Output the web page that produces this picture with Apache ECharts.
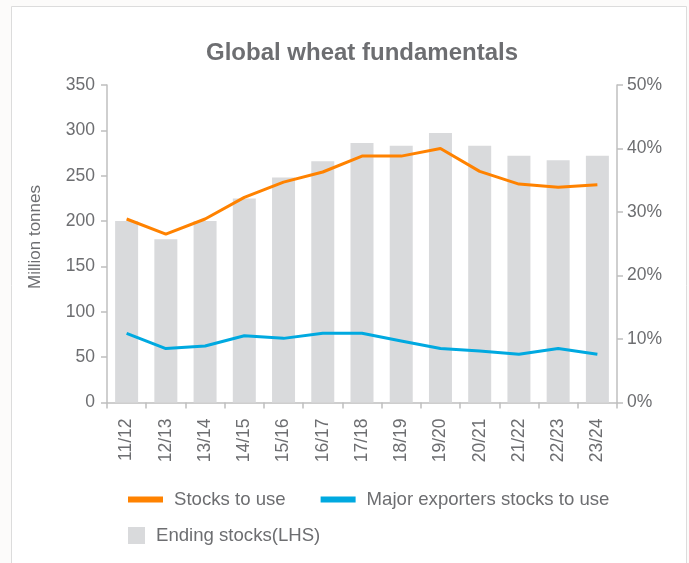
<!DOCTYPE html>
<html>
<head>
<meta charset="utf-8">
<script src="https://cdn.jsdelivr.net/npm/echarts@6/dist/echarts.min.js"></script>
<style>
  html, body { margin: 0; padding: 0; background: #fcfbfa; }
  #chart { width: 689px; height: 563px; }
</style>
</head>
<body>
<div id="chart"></div>
<script>
// Marketing years
var seasons = ['11/12', '12/13', '13/14', '14/15', '15/16', '16/17', '17/18',
               '18/19', '19/20', '20/21', '21/22', '22/23', '23/24'];

// Global ending stocks, million tonnes (left axis)
var endingStocks = [200, 180, 200, 225, 248, 266, 286, 283, 297, 283, 272, 267, 272];

// Global stocks-to-use ratio, % (right axis)
var stocksToUse = [28.9, 26.5, 28.9, 32.3, 34.7, 36.3, 38.8, 38.8, 40.0, 36.4, 34.4, 33.9, 34.3];

// Major exporters' stocks-to-use ratio, % (right axis)
var exportersStocksToUse = [10.9, 8.5, 8.9, 10.5, 10.1, 10.9, 10.9, 9.7, 8.5, 8.1, 7.6, 8.5, 7.6];

// Axis ticks
var leftTicks = { min: 0, max: 350, interval: 50 };
var rightTicks = { min: 0, max: 50, interval: 10 };

var textGrey = '#6d6e71';
var axisGrey = '#bfbfbf';
var fontFamily = 'Liberation Sans, Arial, sans-serif';

var chart = echarts.init(document.getElementById('chart'), null, { renderer: 'canvas' });

chart.setOption({
  backgroundColor: '#fcfbfa',
  animation: false,
  textStyle: { fontFamily: fontFamily },
  graphic: [
    {
      type: 'rect',
      z: -10,
      silent: true,
      shape: { x: 11.5, y: 6.5, width: 675, height: 620 },
      style: { fill: '#ffffff', stroke: '#dcdcdc', lineWidth: 1 }
    },
    {
      type: 'text',
      silent: true,
      x: 35,
      y: 237,
      rotation: Math.PI / 2,
      style: {
        text: 'Million tonnes',
        fill: textGrey,
        font: '17px ' + fontFamily,
        textAlign: 'center',
        textVerticalAlign: 'middle'
      }
    }
  ],
  title: {
    text: 'Global wheat fundamentals',
    left: 362,
    top: 41,
    padding: 0,
    textAlign: 'center',
    textStyle: {
      color: textGrey,
      fontSize: 24,
      fontWeight: 'bold',
      fontFamily: fontFamily
    }
  },
  legend: [
    {
      left: 128,
      top: 490,
      padding: 0,
      orient: 'horizontal',
      icon: 'rect',
      itemWidth: 35,
      itemHeight: 6,
      itemGap: 35,
      textStyle: { color: textGrey, fontSize: 18.6, padding: [0, 0, 0, 6] },
      data: ['Stocks to use', 'Major exporters stocks to use']
    },
    {
      left: 128,
      top: 526,
      padding: 0,
      icon: 'rect',
      itemWidth: 17,
      itemHeight: 17,
      textStyle: { color: textGrey, fontSize: 18.6, padding: [0, 0, 0, 6] },
      data: ['Ending stocks(LHS)']
    }
  ],
  grid: {
    left: 107,
    right: 72,
    top: 85,
    bottom: 160.5,
    containLabel: false
  },
  xAxis: {
    type: 'category',
    data: seasons,
    boundaryGap: true,
    axisLine: { show: true, lineStyle: { color: axisGrey, width: 1.5 } },
    axisTick: { show: true, alignWithLabel: false, length: 6, lineStyle: { color: axisGrey, width: 1.5 } },
    axisLabel: {
      rotate: 90,
      margin: 16,
      color: textGrey,
      fontSize: 17.5,
      interval: 0
    },
    splitLine: { show: false }
  },
  yAxis: [
    {
      type: 'value',
      min: leftTicks.min,
      max: leftTicks.max,
      interval: leftTicks.interval,
      axisLine: { show: true, lineStyle: { color: axisGrey, width: 1.5 } },
      axisTick: { show: true, length: 6, lineStyle: { color: axisGrey, width: 1.5 } },
      axisLabel: { color: textGrey, fontSize: 17.5, margin: 12 },
      splitLine: { show: false }
    },
    {
      type: 'value',
      position: 'right',
      min: rightTicks.min,
      max: rightTicks.max,
      interval: rightTicks.interval,
      axisLine: { show: true, lineStyle: { color: axisGrey, width: 1.5 } },
      axisTick: { show: true, length: 6, lineStyle: { color: axisGrey, width: 1.5 } },
      axisLabel: { color: textGrey, fontSize: 17.5, margin: 10, formatter: '{value}%' },
      splitLine: { show: false }
    }
  ],
  series: [
    {
      name: 'Ending stocks(LHS)',
      type: 'bar',
      yAxisIndex: 0,
      data: endingStocks,
      barWidth: 23,
      itemStyle: { color: '#d9dadc' },
      z: 1
    },
    {
      name: 'Stocks to use',
      type: 'line',
      yAxisIndex: 1,
      data: stocksToUse,
      symbol: 'none',
      lineStyle: { color: '#ff8200', width: 3 },
      itemStyle: { color: '#ff8200' },
      z: 3
    },
    {
      name: 'Major exporters stocks to use',
      type: 'line',
      yAxisIndex: 1,
      data: exportersStocksToUse,
      symbol: 'none',
      lineStyle: { color: '#00a9e0', width: 3 },
      itemStyle: { color: '#00a9e0' },
      z: 3
    }
  ]
});
</script>
</body>
</html>
